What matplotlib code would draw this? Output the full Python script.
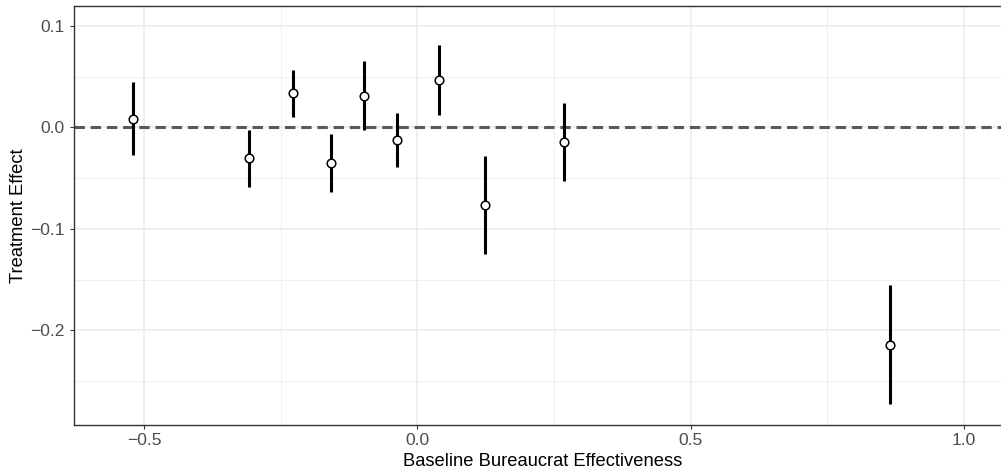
import matplotlib
matplotlib.use("Agg")
import matplotlib.pyplot as plt
import numpy as np

# Data
baseline = [-0.520, -0.307, -0.227, -0.1585, -0.0975, -0.0377, 0.0403, 0.1245, 0.269, 0.8657]
effect = [0.0085, -0.0301, 0.0336, -0.0350, 0.0314, -0.0121, 0.0468, -0.0768, -0.0144, -0.2140]
ci_low = [-0.0268, -0.0585, 0.0101, -0.0634, -0.0023, -0.0389, 0.0125, -0.1248, -0.0526, -0.2722]
ci_high = [0.0447, -0.0029, 0.0569, -0.0069, 0.0654, 0.0144, 0.0811, -0.0284, 0.0238, -0.1556]

x_ticks = [-0.5, 0.0, 0.5, 1.0]
x_ticklabels = ["\u22120.5", "0.0", "0.5", "1.0"]
y_ticks = [0.1, 0.0, -0.1, -0.2]
y_ticklabels = ["0.1", "0.0", "\u22120.1", "\u22120.2"]

plt.rcParams['font.family'] = ['Liberation Sans', 'DejaVu Sans']

W, H = 1001, 475
fig = plt.figure(figsize=(W / 100, H / 100), dpi=100)
left, right, top, bottom = 74, 1012, 6, 425.3
ax = fig.add_axes([left / W, 1 - bottom / H, (right - left) / W, (bottom - top) / H])

ax.set_xlim(-0.628, 1.088)
ax.set_ylim(-0.2934, 0.1196)

# grid
ax.set_xticks(x_ticks)
ax.set_xticklabels(x_ticklabels)
ax.set_yticks(y_ticks)
ax.set_yticklabels(y_ticklabels)
ax.set_xticks([-0.25, 0.25, 0.75], minor=True)
ax.set_yticks([0.05, -0.05, -0.15, -0.25], minor=True)
ax.grid(which='major', color='#EBEBEB', linewidth=1.1, zorder=0)
ax.grid(which='minor', color='#EBEBEB', linewidth=0.55, zorder=0)
ax.tick_params(which='minor', length=0)
ax.tick_params(which='major', length=3.0, width=0.8, color='#333333',
               labelsize=12.6, labelcolor='#4D4D4D', pad=2.5)
ax.tick_params(axis='y', pad=4.0)
ax.set_axisbelow(True)
for s in ax.spines.values():
    s.set_color('#333333')
    s.set_linewidth(1.0)

# reference line
ax.axhline(0, color='#595959', linewidth=2.2, linestyle=(0, (3.4, 1.9)), zorder=2)

# error bars
ax.vlines(baseline, ci_low, ci_high, color='black', linewidth=2.2, zorder=3)
ax.plot(baseline, effect, linestyle='none', marker='o', markersize=6.2,
        markerfacecolor='white', markeredgecolor='black', markeredgewidth=1.1, zorder=4)

fig.text(543 / W, 1 - 466 / H, "Baseline Bureaucrat Effectiveness",
         ha='center', va='baseline', fontsize=13.2, color='black')
fig.text(18.3 / W, 1 - 215.5 / H, "Treatment Effect", rotation=90,
         ha='center', va='center', fontsize=13.2, color='black')

fig.savefig("out.png", dpi=100, facecolor='white')
